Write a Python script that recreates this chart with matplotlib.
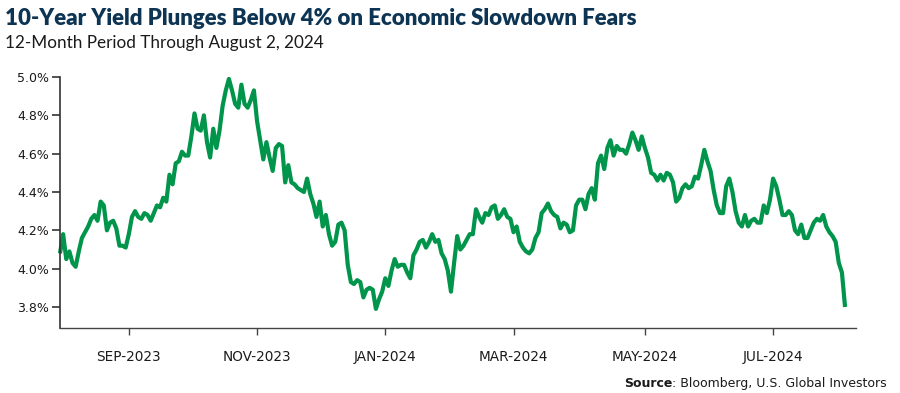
import matplotlib
matplotlib.use("Agg")
import matplotlib.pyplot as plt
import numpy as np

# 10-year yield (%), one value per trading day, grouped by month
aug23 = [4.08, 4.18, 4.05, 4.09, 4.03, 4.01, 4.09, 4.16, 4.19, 4.22, 4.26, 4.28, 4.25, 4.35, 4.33,
         4.20, 4.24, 4.25, 4.21, 4.12, 4.12, 4.11]
sep23 = [4.18, 4.27, 4.30, 4.27, 4.26, 4.29, 4.28, 4.25, 4.29, 4.33, 4.32, 4.37, 4.35, 4.49, 4.44,
         4.55, 4.56, 4.61, 4.59, 4.59]
oct23 = [4.69, 4.81, 4.73, 4.72, 4.80, 4.66, 4.58, 4.73, 4.63, 4.72, 4.85, 4.93, 4.99, 4.93, 4.86,
         4.84, 4.96, 4.86, 4.84, 4.88, 4.93]
nov23 = [4.77, 4.67, 4.57, 4.66, 4.58, 4.51, 4.63, 4.65, 4.64, 4.45, 4.54, 4.45, 4.44, 4.42, 4.41,
         4.40, 4.47, 4.39, 4.34, 4.27, 4.35]
dec23 = [4.22, 4.28, 4.18, 4.12, 4.14, 4.23, 4.24, 4.20, 4.02, 3.93, 3.92, 3.94, 3.93, 3.85, 3.89,
         3.90, 3.89, 3.79, 3.84, 3.88]
jan24 = [3.95, 3.91, 3.99, 4.05, 4.01, 4.02, 4.02, 3.98, 3.95, 4.07, 4.10, 4.14, 4.15, 4.11, 4.14,
         4.18, 4.14, 4.15, 4.08, 4.05, 3.99]
feb24 = [3.88, 4.03, 4.17, 4.10, 4.12, 4.15, 4.18, 4.18, 4.31, 4.27, 4.24, 4.29, 4.28, 4.32, 4.33,
         4.26, 4.28, 4.31, 4.27, 4.26]
mar24 = [4.19, 4.22, 4.14, 4.11, 4.09, 4.08, 4.10, 4.16, 4.19, 4.29, 4.31, 4.34, 4.30, 4.28, 4.27,
         4.21, 4.24, 4.23, 4.19, 4.20]
apr24 = [4.33, 4.36, 4.36, 4.31, 4.39, 4.42, 4.36, 4.55, 4.59, 4.52, 4.63, 4.67, 4.59, 4.64, 4.62,
         4.62, 4.60, 4.65, 4.71, 4.67, 4.62, 4.69]
may24 = [4.63, 4.58, 4.50, 4.49, 4.46, 4.49, 4.46, 4.50, 4.49, 4.45, 4.35, 4.37, 4.42, 4.44, 4.42,
         4.43, 4.48, 4.47, 4.54, 4.62, 4.56, 4.51]
jun24 = [4.41, 4.33, 4.29, 4.29, 4.43, 4.47, 4.40, 4.30, 4.24, 4.22, 4.28, 4.22, 4.25, 4.26, 4.24,
         4.24, 4.33, 4.29, 4.36]
jul24 = [4.47, 4.43, 4.36, 4.28, 4.28, 4.30, 4.28, 4.20, 4.18, 4.23, 4.16, 4.16, 4.20, 4.24, 4.26,
         4.25, 4.28, 4.22, 4.19, 4.17, 4.14, 4.03]
aug24 = [3.98, 3.80]

months = [aug23, sep23, oct23, nov23, dec23, jan24, feb24, mar24, apr24, may24, jun24, jul24, aug24]
tick_labels = ["SEP-2023", "NOV-2023", "JAN-2024", "MAR-2024", "MAY-2024", "JUL-2024"]
y_ticks = [3.8, 4.0, 4.2, 4.4, 4.6, 4.8, 5.0]

yields = np.concatenate(months)
x = np.arange(len(yields))
# first trading day of each month -> tick position (every other month)
starts = np.cumsum([0] + [len(m) for m in months[:-1]])
tick_pos = starts[1:12:2]

W, H = 900, 393
fig = plt.figure(figsize=(W / 100, H / 100), dpi=100)
ax = fig.add_axes([60 / W, 65 / H, 796 / W, 251 / H])

ax.plot(x, yields, color="#00954a", lw=3.0, solid_joinstyle="round",
        solid_capstyle="butt", clip_on=False)

ax.set_xlim(0, 254.5)
ax.set_ylim(3.8 - 21 / 191.67, 5.0)
ax.set_yticks(y_ticks)
ax.set_yticklabels([f"{v:.1f}%" for v in y_ticks])
ax.set_xticks(tick_pos)
ax.set_xticklabels(tick_labels)

for s in ["top", "right"]:
    ax.spines[s].set_visible(False)
ax.spines["left"].set_color("#333333")
ax.spines["left"].set_linewidth(1.2)
ax.spines["bottom"].set_color("#444444")
ax.spines["bottom"].set_linewidth(1.0)

ax.tick_params(axis="y", length=6, width=1.2, color="#333333", labelsize=9,
               labelcolor="#1a1a1a", pad=2)
ax.tick_params(axis="x", length=5, width=1.0, color="#444444", labelsize=9.8,
               labelcolor="#1a1a1a", pad=11)
for lab in ax.get_xticklabels() + ax.get_yticklabels():
    lab.set_family("DejaVu Sans")

fig.text(5 / W, 1 - 25 / H, "10-Year Yield Plunges Below 4% on Economic Slowdown Fears",
         family="Lato", weight="heavy", fontsize=16, color="#0d3453",
         ha="left", va="baseline")
fig.text(5 / W, 1 - 48 / H, "12-Month Period Through August 2, 2024",
         family="Lato", fontsize=12.3, color="#1a1a1a", ha="left", va="baseline")

# source line: bold "Source" followed by regular text, right aligned
r = fig.canvas.get_renderer()
src = fig.text(887 / W, 1 - 387 / H, ": Bloomberg, U.S. Global Investors",
               family="DejaVu Sans", fontsize=9, color="#1a1a1a", ha="right", va="baseline")
bb = src.get_window_extent(renderer=r)
fig.text(bb.x0 / W, 1 - 387 / H, "Source", family="DejaVu Sans", weight="bold",
         fontsize=9, color="#1a1a1a", ha="right", va="baseline")

fig.savefig("out.png", dpi=100)
